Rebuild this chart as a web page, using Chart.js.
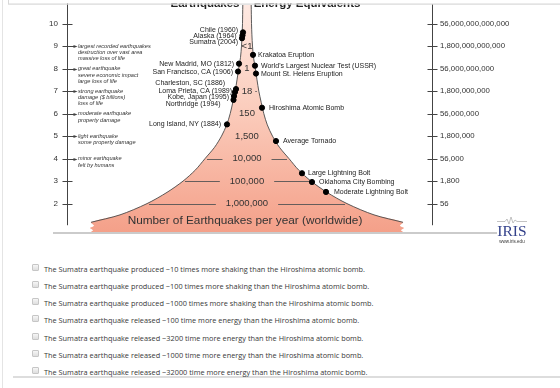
<!DOCTYPE html>
<html>
<head>
<meta charset="UTF-8">
<title>Earthquake Energy Equivalents</title>
<script src="https://cdn.jsdelivr.net/npm/chart.js"></script>
<style>
  body { margin: 0; background: #fff; }
  #wrap { position: relative; width: 560px; height: 388px; overflow: hidden; }
  #chart { position: absolute; left: 0; top: 0; }
  .opt { position: absolute; left: 32px; height: 9px; white-space: nowrap; }
  .box { position: absolute; left: 0; top: 0; width: 5px; height: 5px; border: 1px solid #c6c6c6; border-radius: 1px;
         background: linear-gradient(#f6f6f6, #dedede); }
  .txt { position: absolute; left: 12px; top: 0; line-height: 9px; font: 7.35px "Open Sans", sans-serif; color: #383838; }
  .frame { position: absolute; background: #ddd; }
</style>
</head>
<body>
<div id="wrap">
  <canvas id="chart" width="560" height="250"></canvas>
  <div class="frame" style="left:2px;top:0;width:1px;height:388px;background:#e4e4e4"></div>
  <div class="frame" style="left:13px;top:376px;width:547px;height:1.5px"></div>
  <div id="answers"></div>
</div>
<script>
// magnitude axis (left) and energy axis (right, pounds of TNT)
const magnitudes = [2, 3, 4, 5, 6, 7, 8, 9, 10];
const energyLabels = ['56', '1,800', '56,000', '1,800,000', '56,000,000', '1,800,000,000',
  '56,000,000,000', '1,800,000,000,000', '56,000,000,000,000'];

// number of earthquakes per year, written inside the cone
const countMags = [9, 8, 7, 6, 5, 4, 3, 2];
const countLabels = ['<1', '1', '18', '150', '1,500', '10,000', '100,000', '1,000,000'];

// effect notes next to the magnitude ticks
const effectMags = [9, 8, 7, 6, 5, 4];
const effectText = [
  ['largest recorded earthquakes', 'destruction over vast area', 'massive loss of life'],
  ['great earthquake', 'severe economic impact', 'large loss of life'],
  ['strong earthquake', 'damage ($ billions)', 'loss of life'],
  ['moderate earthquake', 'property damage'],
  ['light earthquake', 'some property damage'],
  ['minor earthquake', 'felt by humans']
];

// cone outline: half width at each magnitude
const coneMag = [10.83, 10, 9.5, 9, 8.5, 8, 7.5, 7, 6.5, 6, 5.5, 5, 4.5, 4, 3.5, 3, 2.5, 2, 1.5, 1.17];
const coneHalf = [4.2, 4.5, 4.9, 5.5, 6.5, 8.3, 10, 11.8, 14.2, 16.8, 20.3, 25.5, 32.5, 42, 51.5, 64, 80, 100, 127, 156];
const coneBaseMag = [1.02, 0.92, 0.82, 0.74];
const coneBaseHalf = [153, 157, 154, 156];

// earthquakes and energy equivalents placed on the cone
const eventNames = ['Chile (1960)', 'Alaska (1964)', 'Sumatra (2004)', 'Krakatoa Eruption',
  'New Madrid, MO (1812)', "World's Largest Nuclear Test (USSR)", 'San Francisco, CA (1906)',
  'Mount St. Helens Eruption', 'Charleston, SC (1886)', 'Loma Prieta, CA (1989)', 'Kobe, Japan (1995)',
  'Northridge (1994)', 'Hiroshima Atomic Bomb', 'Long Island, NY (1884)', 'Average Tornado',
  'Large Lightning Bolt', 'Oklahoma City Bombing', 'Moderate Lightning Bolt'];
const eventMag = [9.61, 9.48, 9.35, 8.61, 8.22, 8.13, 7.87, 7.78, 7.09, 6.96, 6.78, 6.61, 6.26, 5.52, 4.78, 3.35, 2.96, 2.52];
const eventPos = [-4, -4.5, -5, 6, -8, 8, -9, 9, -11, -12, -13, -13.5, 15, -20, 29, 55, 65, 79];

const answerChoices = [
  'The Sumatra earthquake produced ~10 times more shaking than the Hiroshima atomic bomb.',
  'The Sumatra earthquake produced ~100 times more shaking than the Hiroshima atomic bomb.',
  'The Sumatra earthquake produced ~1000 times more shaking than the Hiroshima atomic bomb.',
  'The Sumatra earthquake released ~100 time more energy than the Hiroshima atomic bomb.',
  'The Sumatra earthquake released ~3200 time more energy than the Hiroshima atomic bomb.',
  'The Sumatra earthquake released ~1000 time more energy than the Hiroshima atomic bomb.',
  'The Sumatra earthquake released ~32000 time more energy than the Hiroshima atomic bomb.'
];

// label nudges in px [dx, dy]
const labelNudge = [[-1, -2], [-2, 1], [0, 4], [0, 0], [-1, 0], [1, 0], [-1, 1], [0, 1], [-7, -6],
  [1, -1], [-1, 1], [-9, 4], [2, 0], [-2, 0], [2, 0], [1, 0], [2, 0], [3, 0]];

const FONT = '"Liberation Sans", Arial, sans-serif';

// outline points
const leftEdge = coneMag.map((m, i) => ({x: -coneHalf[i], y: m}));
const rightEdge = coneMag.map((m, i) => ({x: coneHalf[i], y: m}));
const conePoly = leftEdge
  .concat(coneBaseMag.map((m, i) => ({x: -coneBaseHalf[i], y: m})))
  .concat(coneBaseMag.slice().reverse().map((m, i) => ({x: coneBaseHalf[coneBaseHalf.length - 1 - i], y: m})))
  .concat(rightEdge.slice().reverse());

function line(ctx, x1, y1, x2, y2) {
  ctx.beginPath(); ctx.moveTo(x1, y1); ctx.lineTo(x2, y2); ctx.stroke();
}

const extras = {
  id: 'extras',
  afterDatasetsDraw(chart) {
    const {ctx, chartArea: area, scales: {x, y}} = chart;
    const cx = x.getPixelForValue(0);
    ctx.save();
    ctx.strokeStyle = '#444';
    ctx.fillStyle = '#444';
    ctx.lineWidth = 1;
    const yBot = y.getPixelForValue(1.04);
    const L = area.left + 0.5, R = area.right + 0.5;
    line(ctx, L, 0, L, yBot);
    line(ctx, R, 4, R, yBot);
    magnitudes.forEach(m => {
      const py = Math.round(y.getPixelForValue(m)) + 0.5;
      line(ctx, R - 5, py, R + 5, py);
      if (effectMags.includes(m)) {
        line(ctx, L - 5, py, L + 7, py);
        ctx.beginPath(); ctx.moveTo(L + 10, py); ctx.lineTo(L + 6, py - 1.6); ctx.lineTo(L + 6, py + 1.6); ctx.fill();
      } else {
        line(ctx, L - 5, py, L + 5, py);
      }
    });

    // effect notes
    ctx.fillStyle = '#333';
    ctx.font = 'italic 5.6px ' + FONT;
    ctx.textBaseline = 'middle';
    ctx.textAlign = 'left';
    effectMags.forEach((m, i) => {
      const py = y.getPixelForValue(m);
      effectText[i].forEach((t, j) => ctx.fillText(t, area.left + 11, py + j * 6.4));
    });

    // counts inside cone
    ctx.font = '9.5px ' + FONT;
    ctx.textAlign = 'center';
    ctx.strokeStyle = '#555';
    ctx.lineWidth = 0.9;
    countMags.forEach((m, i) => {
      const py = y.getPixelForValue(m);
      ctx.fillText(countLabels[i], cx, py);
      if (m <= 4 || m === 7) {
        const h = coneHalf[coneMag.indexOf(m)];
        const w = ctx.measureText(countLabels[i]).width / 2;
        const ly = Math.round(py) + 0.5;
        if (m <= 4) line(ctx, x.getPixelForValue(-h) + 2, ly, cx - w - 10, ly);
        line(ctx, cx + w + 10 - (m === 7 ? 7 : 0), ly, x.getPixelForValue(h) - 2, ly);
      }
    });

    // event labels
    ctx.font = '7px ' + FONT;
    ctx.fillStyle = '#222';
    const pts = chart.getDatasetMeta(0).data;
    pts.forEach((p, i) => {
      const [dx, dy] = labelNudge[i];
      const left = eventPos[i] < 0;
      ctx.textAlign = left ? 'right' : 'left';
      ctx.fillText(eventNames[i], p.x + (left ? -4 : 5) + dx, p.y + dy);
    });

    // cone caption
    ctx.font = '11.8px ' + FONT;
    ctx.fillStyle = '#333';
    ctx.textAlign = 'center';
    ctx.fillText('Number of Earthquakes per year (worldwide)', cx - 2, y.getPixelForValue(1.22));
    ctx.restore();
  },
  afterDraw(chart) {
    const {ctx} = chart;
    ctx.save();
    // baseline under the cone
    ctx.fillStyle = '#cbcbcb';
    ctx.fillRect(53, 232, 444, 2);
    // IRIS mark
    ctx.strokeStyle = '#9a9a9a';
    ctx.lineWidth = 0.6;
    ctx.beginPath();
    ctx.moveTo(497, 221.5);
    [[505, 221.5], [507, 219], [509, 224], [511, 217], [513, 223], [515, 220], [517, 221.5], [527, 221.5]]
      .forEach(([a, b]) => ctx.lineTo(a, b));
    ctx.stroke();
    ctx.fillStyle = '#33418a';
    ctx.font = '15.5px "Liberation Serif", "Times New Roman", serif';
    ctx.textAlign = 'center';
    ctx.textBaseline = 'alphabetic';
    ctx.fillText('IRIS', 512, 236);
    ctx.fillStyle = '#333';
    ctx.font = '4.5px ' + FONT;
    ctx.fillText('www.iris.edu', 512, 243);
    // clipped title at the top
    ctx.fillStyle = '#222';
    ctx.font = 'bold 11.5px ' + FONT;
    ctx.fillText('Earthquakes', 205, 6.5);
    ctx.fillText('Energy Equivalents', 307, 6.5);
    ctx.fillStyle = '#fff';
    ctx.fillRect(0, 0, 560, 3.5);
    ctx.fillStyle = '#d8d8d8';
    ctx.fillRect(8, 3.5, 552, 1.2);
    ctx.fillRect(8, 0, 1, 4);
    ctx.restore();
  }
};

function coneGradient(c) {
  const {ctx, chartArea} = c.chart;
  if (!chartArea) return '#f8b9a5';
  const g = ctx.createLinearGradient(0, chartArea.top, 0, chartArea.bottom);
  g.addColorStop(0, '#fee9e2');
  g.addColorStop(0.45, '#fbcdbd');
  g.addColorStop(1, '#f4a089');
  return g;
}

const fitLeft = s => { s.width = 67; s.paddingTop = 0; s.paddingBottom = 0; };
const fitRight = s => { s.width = 128; s.paddingTop = 0; s.paddingBottom = 0; };
const magTicks = s => { s.ticks = magnitudes.map(v => ({value: v})); };

new Chart(document.getElementById('chart'), {
  type: 'scatter',
  data: {
    datasets: [
      {
        data: eventMag.map((m, i) => ({x: eventPos[i], y: m})),
        backgroundColor: '#000', borderColor: '#000', pointRadius: 2.6, order: 0
      },
      { data: leftEdge, showLine: true, pointRadius: 0, borderColor: '#4a4a4a', borderWidth: 0.9, tension: 0.3, order: 1 },
      { data: rightEdge, showLine: true, pointRadius: 0, borderColor: '#4a4a4a', borderWidth: 0.9, tension: 0.3, order: 1 },
      {
        data: conePoly, showLine: true, pointRadius: 0, borderWidth: 0, tension: 0.3,
        fill: 'shape', backgroundColor: coneGradient, order: 2
      }
    ]
  },
  options: {
    responsive: false,
    animation: false,
    events: [],
    devicePixelRatio: 1,
    layout: {padding: {top: 0, left: 0, right: 0, bottom: 18}},
    plugins: {legend: {display: false}, tooltip: {enabled: false}},
    scales: {
      x: {type: 'linear', min: -180, max: 185, display: false},
      y: {
        type: 'linear', position: 'left', min: 0.739, max: 10.826,
        afterFit: fitLeft, afterBuildTicks: magTicks,
        grid: {display: false, drawTicks: true, tickLength: 5},
        border: {display: false},
        ticks: {color: '#333', font: {size: 8, family: FONT}, padding: 4}
      },
      y2: {
        type: 'linear', position: 'right', min: 0.739, max: 10.826,
        afterFit: fitRight, afterBuildTicks: magTicks,
        grid: {display: false, drawTicks: true, tickLength: 5},
        border: {display: false},
        ticks: {
          color: '#333', font: {size: 7.8, family: FONT}, padding: 3,
          callback: v => energyLabels[magnitudes.indexOf(v)]
        }
      }
    }
  },
  plugins: [extras]
});

// answer list below the chart
const answers = document.getElementById('answers');
answerChoices.forEach((t, i) => {
  const row = document.createElement('div');
  row.className = 'opt';
  row.style.top = (263.5 + i * 17.3) + 'px';
  row.innerHTML = '<span class="box"></span><span class="txt"></span>';
  row.querySelector('.txt').textContent = t;
  answers.appendChild(row);
});
</script>
</body>
</html>
